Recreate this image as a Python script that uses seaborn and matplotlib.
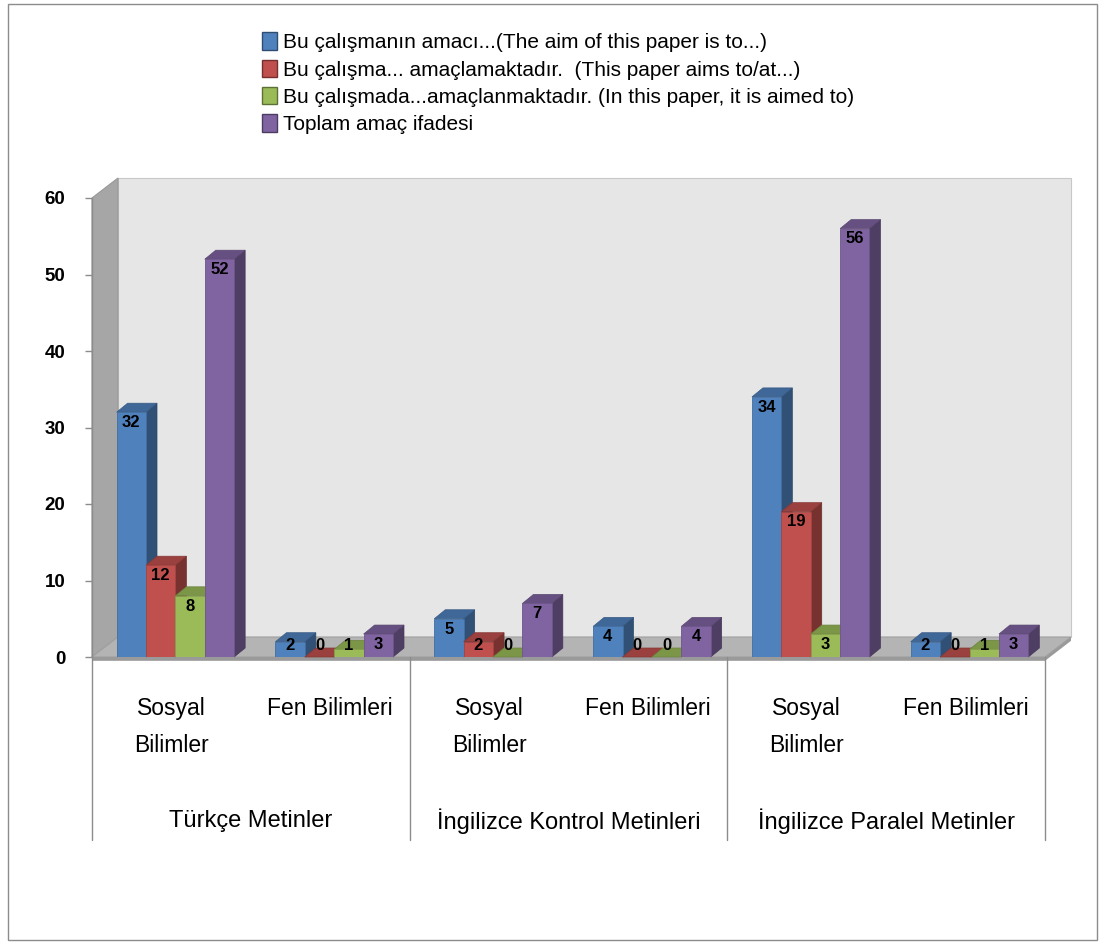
import numpy as np
import pandas as pd
import matplotlib
matplotlib.use('Agg')
import matplotlib.pyplot as plt
import seaborn as sns
from matplotlib.patches import Polygon, Patch, Rectangle
from matplotlib.colors import to_rgb
import matplotlib.transforms as mtrans

sns.set_style('white')
plt.rcParams['font.family'] = ['Liberation Sans', 'DejaVu Sans']
plt.rcParams['text.color'] = 'black'
plt.rcParams['xtick.color'] = 'black'
plt.rcParams['ytick.color'] = 'black'

#%% data
gruplar = ['Türkçe Metinler', 'İngilizce Kontrol Metinleri', 'İngilizce Paralel Metinler']
alanlar = ['Sosyal\nBilimler', 'Fen Bilimleri']
ifadeler = ['Bu çalışmanın amacı...(The aim of this paper is to...)',
            'Bu çalışma... amaçlamaktadır.  (This paper aims to/at...)',
            'Bu çalışmada...amaçlanmaktadır. (In this paper, it is aimed to)',
            'Toplam amaç ifadesi']
amaci = [32, 2, 5, 4, 34, 2]
amaclamaktadir = [12, 0, 2, 0, 19, 0]
amaclanmaktadir = [8, 1, 0, 0, 3, 1]
toplam = [52, 3, 7, 4, 56, 3]
renkler = ['#4F81BD', '#C0504D', '#9BBB59', '#8064A2']

kategoriler = [g + ' / ' + a for g in gruplar for a in alanlar]
rows = []
for ifade, vals in zip(ifadeler, [amaci, amaclamaktadir, amaclanmaktadir, toplam]):
    for k, v in zip(kategoriler, vals):
        rows.append({'kategori': k, 'ifade': ifade, 'sayi': v})
df = pd.DataFrame(rows)

#%% plot
W, H = 1101, 944
fig = plt.figure(figsize=(W / 100, H / 100), dpi=100)
ax = fig.add_axes([92 / W, 1 - 657 / H, (1045 - 92) / W, (657 - 198) / H])
ax.set_facecolor('none')

sns.barplot(data=df, x='kategori', y='sayi', hue='ifade', order=kategoriler,
            hue_order=ifadeler, palette=renkler, saturation=1, width=0.74,
            legend=False, ax=ax)
ax.set_xlim(-0.5, 5.5)
ax.set_ylim(0, 60)

pxx = (1045 - 92) / 6.0
pxy = (657 - 198) / 60.0
dxw, dyw = 26 / pxx, 20 / pxy      # wall depth
dxb, dyb = 11 / pxx, 9 / pxy       # bar depth

# back wall, side wall, floor
ax.add_patch(Polygon([(-0.5 + dxw, dyw), (5.5 + dxw, dyw), (5.5 + dxw, 60 + dyw), (-0.5 + dxw, 60 + dyw)],
                     closed=True, fc='#e6e6e6', ec='#c8c8c8', lw=0.8, zorder=0, clip_on=False))
ax.add_patch(Polygon([(-0.5, 0), (-0.5 + dxw, dyw), (-0.5 + dxw, 60 + dyw), (-0.5, 60)],
                     closed=True, fc='#a6a6a6', ec='#999999', lw=0.8, zorder=0.5, clip_on=False))
ax.add_patch(Polygon([(-0.5, 0), (5.5, 0), (5.5 + dxw, dyw), (-0.5 + dxw, dyw)],
                     closed=True, fc='#b4b4b4', ec='#a0a0a0', lw=0.8, zorder=1, clip_on=False))
ax.add_patch(Polygon([(-0.5, 0), (5.5, 0), (5.5 + dxw, dyw), (5.5 + dxw, dyw - 0.5), (5.5, -0.5), (-0.5, -0.5)],
                     closed=True, fc='#9a9a9a', ec='none', zorder=1, clip_on=False))

def koyu(c, f):
    r, g, b = to_rgb(c)
    return (r * f, g * f, b * f)

# fake 3d faces on bars
bars = []
for ci, cont in enumerate(ax.containers):
    for rect in cont:
        rect.set_x(rect.get_x() + 0.025)
        bars.append((rect.get_x(), rect, renkler[ci]))
bars.sort(key=lambda t: t[0])
for k, (x0, rect, c) in enumerate(bars):
    w = rect.get_width()
    h = rect.get_height()
    z = 3 + k * 0.01
    rect.set_zorder(z + 0.005)
    rect.set_edgecolor(koyu(c, 0.85))
    rect.set_linewidth(0.6)
    ax.add_patch(Polygon([(x0 + w, 0), (x0 + w + dxb, dyb), (x0 + w + dxb, h + dyb), (x0 + w, h)],
                         closed=True, fc=koyu(c, 0.62), ec=koyu(c, 0.55), lw=0.5, zorder=z, clip_on=False))
    ax.add_patch(Polygon([(x0, h), (x0 + dxb, h + dyb), (x0 + w + dxb, h + dyb), (x0 + w, h)],
                         closed=True, fc=koyu(c, 0.8), ec=koyu(c, 0.7), lw=0.5, zorder=z, clip_on=False))
    ax.annotate(f'{int(h)}', (x0 + w / 2, max(h, 2.8)), xytext=(0, -2), textcoords='offset points',
                ha='center', va='top', fontsize=12, fontweight='bold', color='black',
                zorder=10, annotation_clip=False)

# axes styling
for s in ax.spines.values():
    s.set_visible(False)
ax.set_yticks(range(0, 61, 10))
ax.tick_params(axis='y', length=5, width=1, color='#8c8c8c', labelsize=13.5, pad=14, left=True)
for t in ax.get_yticklabels():
    t.set_fontweight('bold')
ax.set_xticks(range(6))
ax.set_xticklabels(alanlar * 3, fontsize=16.5, linespacing=1.75)
ax.tick_params(axis='x', length=0, pad=29)
ax.set_xlabel('')
ax.set_ylabel('')

trans = mtrans.blended_transform_factory(ax.transData, ax.transAxes)
alt = (657 - 840) / (657 - 198)
ax.plot([-0.5, -0.5], [1, alt], color='#8c8c8c', lw=1, transform=trans, clip_on=False, zorder=2)
for xs in [1.5, 3.5, 5.5]:
    ax.plot([xs, xs], [0, alt], color='#8c8c8c', lw=1, transform=trans, clip_on=False)
for i, g in enumerate(gruplar):
    ax.text(2 * i + 0.5, (657 - 821) / (657 - 198), g, transform=trans, ha='center', va='center', fontsize=17)

# legend
handles = [Patch(facecolor=c, edgecolor=koyu(c, 0.6), lw=1) for c in renkler]
fig.legend(handles, ifadeler, loc='upper left', bbox_to_anchor=(254 / W, 1 - 24 / H), frameon=False,
           fontsize=15, handlelength=0.7, handleheight=0.9, handletextpad=0.3, labelspacing=0.36,
           borderaxespad=0)

fig.patches.append(Rectangle((8 / W, 4 / H), (1097 - 8) / W, (940 - 4) / H, transform=fig.transFigure,
                             fill=False, edgecolor='#8c8c8c', lw=1))

plt.savefig('out.png', dpi=100)
